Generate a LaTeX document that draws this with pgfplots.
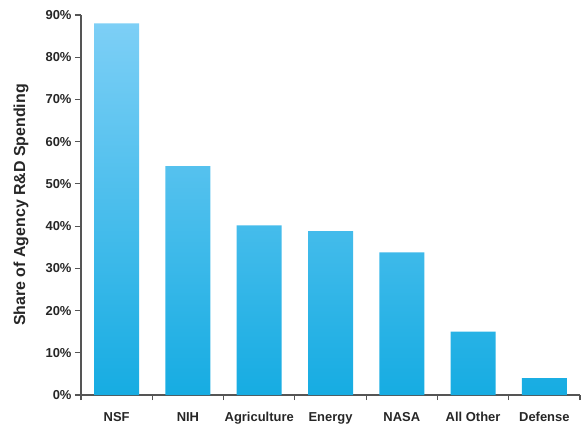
\documentclass[border=0pt]{standalone}
\usepackage{pgfplots}
\pgfplotsset{compat=1.18}
\usepackage{fontspec}
\setmainfont{Liberation Sans}
\definecolor{bartop}{RGB}{125,207,246}
\definecolor{barbot}{RGB}{22,172,226}
\definecolor{axgray}{RGB}{85,85,85}
\begin{document}
\begin{tikzpicture}
\begin{axis}[
  scale only axis,
  width=499bp, height=380bp,
  xmin=-0.5, xmax=6.5,
  ymin=0, ymax=90,
  axis x line*=bottom, axis y line*=left,
  axis line style={axgray, line width=1.3bp},
  xtick={0,1,2,3,4,5,6},
  xticklabels={NSF,NIH,Agriculture,Energy,NASA,All Other,Defense},
  major x tick style={draw=none},
  minor xtick={-0.5,0.5,1.5,2.5,3.5,4.5,5.5,6.5},
  minor tick length=5bp,
  minor x tick style={axgray, line width=1.2bp},
  x tick label style={font=\bfseries\fontsize{13}{15}\selectfont, text=black!85, yshift=-8bp},
  ytick={0,10,...,90},
  yticklabel={\pgfmathprintnumber{\tick}\%},
  y tick label style={font=\bfseries\fontsize{13}{15}\selectfont, text=black!85},
  /pgf/number format/assume math mode=true,
  tick align=outside,
  major tick length=6bp,
  major y tick style={axgray, line width=1.2bp},
  ylabel={Share of Agency R\&D Spending},
  every axis y label/.style={at={(axis description cs:0,0.5)}, xshift=-60bp, rotate=90, anchor=center, font=\bfseries\fontsize{16}{18}\selectfont, text=black!85},
  clip=false,
]
\addplot[ybar, bar width=45bp, draw=none, top color=bartop, bottom color=barbot]
  coordinates {(0,88) (1,54.2) (2,40.2) (3,38.8) (4,33.8) (5,15) (6,4)};
\end{axis}
\pgfresetboundingbox
\path[use as bounding box] (-81bp,-32bp) rectangle (504bp,395bp);
\end{tikzpicture}
\end{document}
